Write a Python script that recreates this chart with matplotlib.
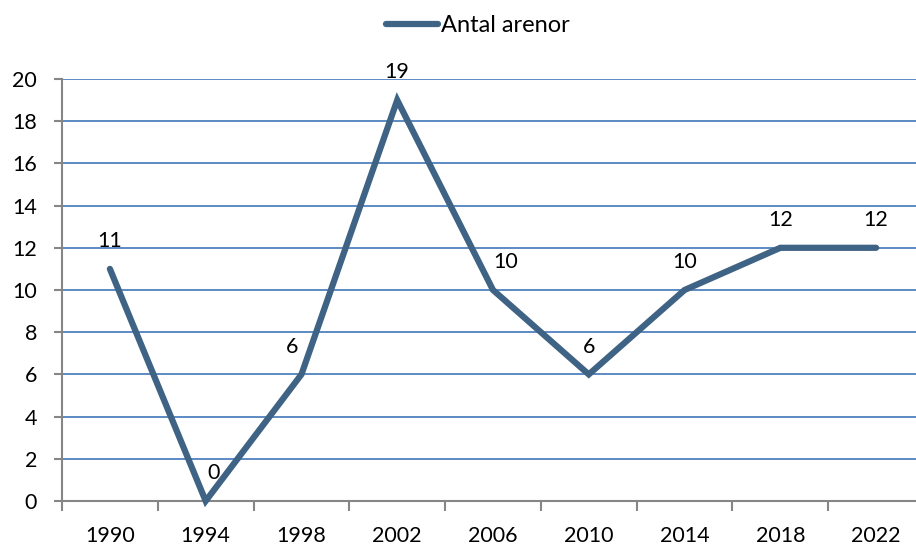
import matplotlib
matplotlib.use("Agg")
import matplotlib.pyplot as plt
import numpy as np

years = ["1990", "1994", "1998", "2002", "2006", "2010", "2014", "2018", "2022"]
arenas = [11, 0, 6, 19, 10, 6, 10, 12, 12]
series_name = "Antal arenor"
yticks = [0, 2, 4, 6, 8, 10, 12, 14, 16, 18, 20]

plt.rcParams['font.family'] = ['Lato', 'DejaVu Sans']

W, H = 916, 545
fig = plt.figure(figsize=(W / 100, H / 100), dpi=100)
left, right, bottom, top = 62, 924, 501, 79
ax = fig.add_axes([left / W, (H - bottom) / H, (right - left) / W, (bottom - top) / H])

line_color = "#3F6384"
grid_color = "#4F81BD"
spine_color = "#868686"

x = np.arange(len(years))
ax.plot(x, arenas, color=line_color, lw=4.5, solid_capstyle='round',
        solid_joinstyle='miter', label=series_name, zorder=3, clip_on=False)

ax.set_xlim(-0.5, len(years) - 0.5)
ax.set_ylim(0, 20)
ax.set_yticks(yticks)
ax.set_yticklabels([str(v) for v in yticks], fontsize=15.5)
ax.set_xticks(x)
ax.set_xticklabels(years, fontsize=15.5)
ax.set_xticks(np.arange(-0.5, len(years), 1), minor=True)
ax.tick_params(axis='x', which='major', length=0, pad=18)
ax.tick_params(axis='x', which='minor', length=7, color=spine_color, width=1.5)
ax.tick_params(axis='y', length=6, color=spine_color, width=1.5, pad=12)

ax.yaxis.grid(True, color=grid_color, lw=1.3)
ax.set_axisbelow(True)
for s in ['top', 'right']:
    ax.spines[s].set_visible(False)
for s in ['left', 'bottom']:
    ax.spines[s].set_color(spine_color)
    ax.spines[s].set_linewidth(1.5)
ax.spines['bottom'].set_zorder(2.5)

offsets = {1: (6, 10), 2: (-7, 10), 4: (9, 10)}
for i, v in enumerate(arenas):
    dx, dy = offsets.get(i, (0, 10))
    ax.annotate(str(v), (x[i], v), xytext=(dx, dy + 10), textcoords='offset points',
                ha='center', va='center', fontsize=15.5, color='black',
                annotation_clip=False)

leg = fig.legend(loc='center', bbox_to_anchor=(478 / W, 1 - 26 / H), frameon=False,
                 fontsize=17, handlelength=2.2, handletextpad=0.15)

fig.savefig("out.png", dpi=100)
